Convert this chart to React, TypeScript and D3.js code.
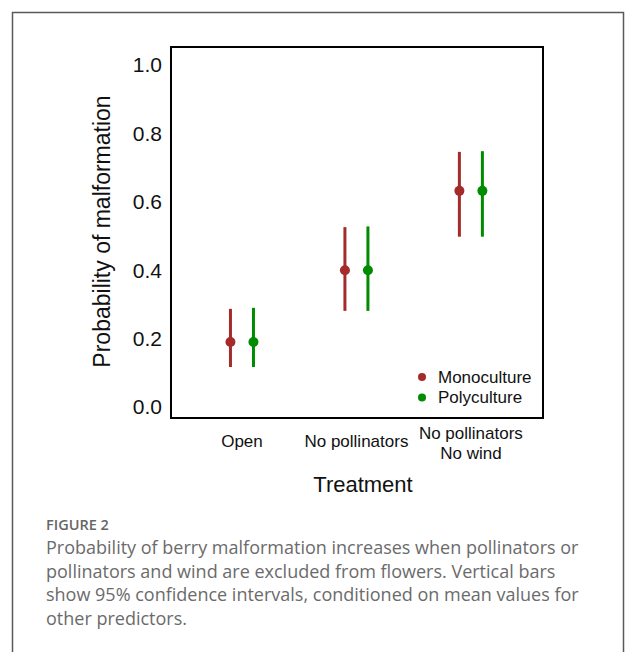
import React from "react";
import * as d3 from "d3";

const categories = ["Open", "No pollinators", "No pollinators\nNo wind"];
const series = ["Monoculture", "Polyculture"];
const colors = ["#A52A2A", "#008B00"];
const monoMean = [0.19, 0.40, 0.632];
const monoLow = [0.117, 0.281, 0.498];
const monoHigh = [0.287, 0.526, 0.746];
const polyMean = [0.19, 0.40, 0.632];
const polyLow = [0.117, 0.281, 0.498];
const polyHigh = [0.29, 0.528, 0.748];
const yTicks = [0, 0.2, 0.4, 0.6, 0.8, 1.0];
const captionTitle = "FIGURE 2";
const captionLines = [
  "Probability of berry malformation increases when pollinators or",
  "pollinators and wind are excluded from flowers. Vertical bars",
  "show 95% confidence intervals, conditioned on mean values for",
  "other predictors.",
];

const W = 625;
const H = 652;
const box = { left: 171, top: 47, right: 543, bottom: 418 };

export default function App() {
  const y = d3.scaleLinear().domain([0, 1]).range([407, 65]);
  const x = d3.scaleLinear().domain([0.38, 3.63]).range([box.left, box.right]);
  const off = 11.5;
  const means = [monoMean, polyMean];
  const lows = [monoLow, polyLow];
  const highs = [monoHigh, polyHigh];
  const font = "Arial, 'Liberation Sans', sans-serif";
  return (
    <svg
      width={W}
      height={H}
      style={{ position: "absolute", left: 0, top: 0, background: "#fff" }}
      fontFamily={font}
    >
      <rect x={0} y={0} width={W} height={H} fill="#fff" />
      {/* outer frame */}
      <path d={`M12.5,${H} V12.5 H623.5 V${H}`} fill="none" stroke="#5a5a5a" strokeWidth={1.5} />
      {/* plot box */}
      <rect
        x={box.left}
        y={box.top}
        width={box.right - box.left}
        height={box.bottom - box.top}
        fill="none"
        stroke="#000"
        strokeWidth={2}
      />
      {yTicks.map((t) => (
        <text key={t} x={162} y={y(t)} dy="0.35em" textAnchor="end" fontSize={21} fill="#111">
          {t.toFixed(1)}
        </text>
      ))}
      <text
        transform={`translate(110,${(95 + 368) / 2}) rotate(-90)`}
        textAnchor="middle"
        fontSize={23}
        fill="#111"
      >
        Probability of malformation
      </text>
      {categories.map((c, i) => {
        const lines = c.split("\n");
        const y0 = lines.length === 1 ? 447 : 439;
        return (
          <text key={c} x={x(i + 1)} y={y0} textAnchor="middle" fontSize={17} fill="#111">
            {lines.map((l, j) => (
              <tspan key={j} x={x(i + 1)} dy={j === 0 ? 0 : 20}>
                {l}
              </tspan>
            ))}
          </text>
        );
      })}
      <text x={363} y={492} textAnchor="middle" fontSize={22} fill="#111">
        Treatment
      </text>
      {series.map((s, si) =>
        categories.map((c, i) => {
          const cx = x(i + 1) + (si === 0 ? -off : off);
          return (
            <g key={s + c}>
              <line
                x1={cx}
                x2={cx}
                y1={y(lows[si][i])}
                y2={y(highs[si][i])}
                stroke={colors[si]}
                strokeWidth={3}
              />
              <circle cx={cx} cy={y(means[si][i])} r={5} fill={colors[si]} />
            </g>
          );
        })
      )}
      {series.map((s, si) => (
        <g key={s}>
          <circle cx={422} cy={377 + si * 20.5} r={4} fill={colors[si]} />
          <text x={438} y={377 + si * 20.5} dy="0.35em" fontSize={17} fill="#111">
            {s}
          </text>
        </g>
      ))}
      <text x={46} y={530} fontFamily="'Open Sans', sans-serif" fontSize={14.5} fontWeight={600} fill="#666">
        {captionTitle}
      </text>
      {captionLines.map((l, i) => (
        <text key={i} x={46} y={554 + i * 23.7} fontFamily="'Open Sans', sans-serif" fontSize={18} fill="#6b6b6b">
          {l}
        </text>
      ))}
    </svg>
  );
}
